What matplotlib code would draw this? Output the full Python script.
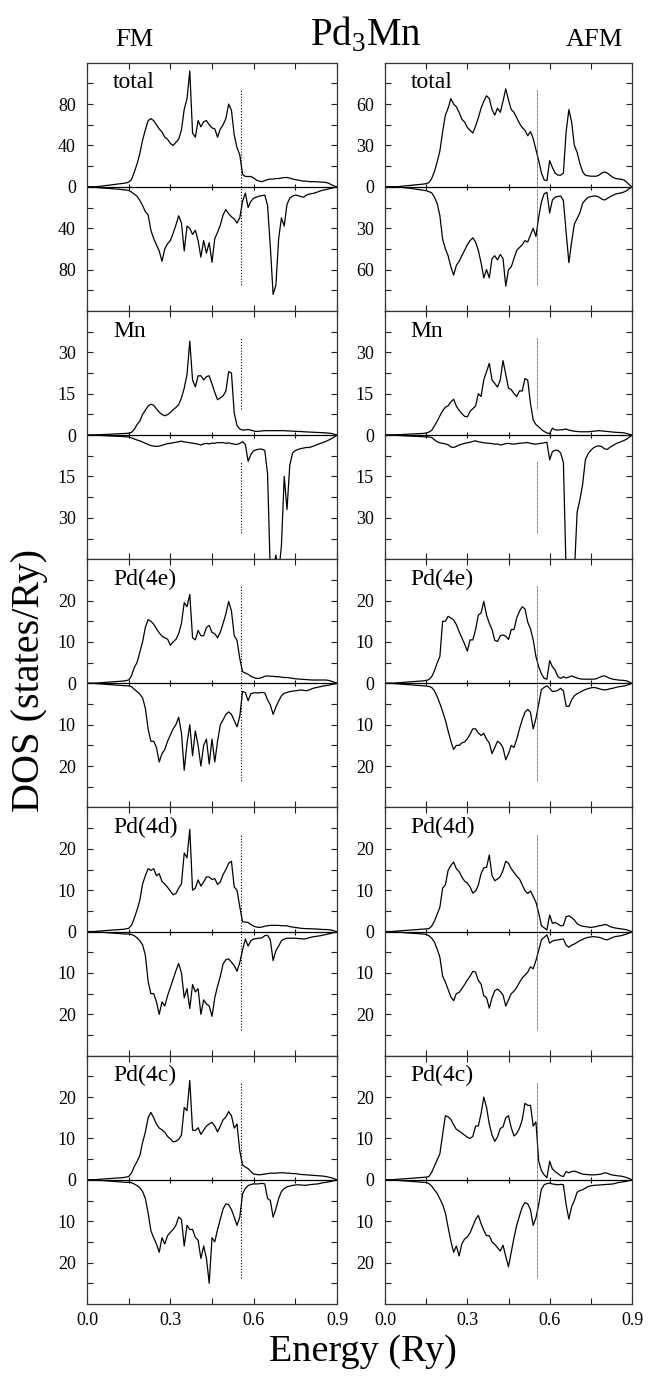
"""
Spin-resolved DOS of Pd3Mn, FM (left) vs AFM (right) ordering.
Upper half of each panel: majority spin, lower half: minority spin.
"""

import numpy as np
import matplotlib.pyplot as plt
from matplotlib.ticker import FixedLocator, FuncFormatter

# energy grid (Ry), 0.01 steps from 0.0 to 0.9
ENERGY = np.linspace(0.0, 0.9, 91)
E_FERMI = 0.555

# --- FM ---------------------------------------------------------------
FM_TOTAL_UP = [
    0, 0, 0, 0, 0.3, 0.6, 1.0, 1.3, 1.6, 2.0,
    2.3, 2.7, 3.0, 3.3, 3.8, 4.5, 7, 14, 22, 32,
    45, 55, 64, 66, 64, 60, 56, 53, 48, 46,
    42, 40, 43, 46, 55, 75, 85, 112, 52, 48,
    64, 58, 63, 64, 60, 57, 56, 48, 56, 60,
    66, 80, 74, 50, 38, 31, 12, 10, 10, 10,
    8.5, 6.5, 5.5, 5, 6, 7, 7.5, 7.5, 8, 8,
    8.5, 9, 9, 8.5, 7.5, 7, 6.5, 6, 5.5, 5.5,
    5, 5, 5, 4.8, 4.6, 4.5, 4.2, 3.5, 2, 0.8,
    0]
FM_TOTAL_DN = [
    0, 0, 0.2, 0.5, 0.8, 1.0, 1.2, 1.4, 1.6, 1.8,
    2.0, 2.2, 2.5, 2.8, 3.0, 3.5, 5, 7, 9, 13,
    18, 24, 27, 42, 50, 56, 62, 72, 60, 55,
    52, 45, 37, 28, 35, 62, 38, 40, 46, 42,
    52, 68, 52, 64, 54, 73, 50, 44, 37, 27,
    22, 26, 29, 31, 35, 30, 14, 6, 20, 14,
    11, 10, 9, 8.5, 8, 18, 58, 104, 95, 50,
    30, 38, 17, 11, 9, 8, 8.5, 9.5, 10, 8,
    7, 6.5, 6, 5, 4, 3.2, 2.7, 2, 1.4, 0.7,
    0]
FM_MN_UP = [
    0, 0, 0, 0.05, 0.1, 0.15, 0.2, 0.25, 0.3, 0.35,
    0.4, 0.45, 0.5, 0.55, 0.6, 0.7, 1.0, 2.0, 3.8, 5,
    7.5, 9, 10.5, 11.2, 10.8, 9.5, 8.3, 7.5, 7.0, 7.4,
    8.2, 9.2, 10, 11, 13.5, 17, 22, 34, 20, 17.5,
    21.5, 21.5, 20, 21.2, 21.5, 18.5, 15.5, 12.8, 13.5, 14.2,
    16, 23, 22.5, 8, 3.5, 2.2, 1.8, 1.9, 2.0, 1.8,
    1.5, 1.3, 1.4, 1.5, 1.6, 1.6, 1.6, 1.6, 1.6, 1.6,
    1.6, 1.6, 1.5, 1.5, 1.4, 1.4, 1.3, 1.3, 1.2, 1.15,
    1.1, 1.05, 1.0, 0.95, 0.9, 0.85, 0.8, 0.7, 0.6, 0.3,
    0]
FM_MN_DN = [
    0, 0, 0, 0.05, 0.1, 0.15, 0.2, 0.25, 0.3, 0.35,
    0.4, 0.45, 0.5, 0.55, 0.6, 0.7, 1.0, 1.4, 1.8, 2.1,
    2.5, 3.0, 3.4, 3.8, 4.0, 4.1, 4.0, 3.7, 3.4, 3.1,
    3.0, 2.8, 2.6, 2.4, 2.2, 2.5, 2.6, 2.8, 2.9, 3.1,
    3.3, 3.6, 3.2, 3.0, 3.2, 2.9, 3.0, 2.7, 2.8, 2.7,
    3.0, 2.8, 3.1, 3.3, 3.4, 3.0, 2.4, 3.4, 9.5, 7,
    5.7, 5.3, 5.1, 5.1, 5.6, 14, 50, 50, 43.5, 50,
    40, 15, 27, 11, 6.5, 5.6, 5.2, 4.9, 4.7, 4.5,
    4.5, 4.2, 3.8, 3.4, 3.0, 2.7, 2.3, 1.8, 1.3, 0.7,
    0]
FM_PD4E_UP = [
    0, 0, 0, 0.05, 0.1, 0.15, 0.2, 0.25, 0.3, 0.35,
    0.4, 0.45, 0.5, 0.55, 0.65, 0.8, 1.8, 3.8, 5, 7.5,
    10, 13.5, 15.4, 15, 14.3, 13.2, 12.2, 11.4, 11, 10.7,
    9.2, 10, 10.6, 12, 14.5, 19.5, 18.5, 21.5, 11, 10.5,
    12.8, 11.5, 11.5, 13.5, 14, 12.3, 12, 11, 12.4, 14.5,
    16.8, 19.8, 17.5, 11.5, 10.4, 6, 2.8, 2.5, 2.2, 1.7,
    1.4, 1.2, 1.2, 1.4, 1.7, 1.8, 1.7, 1.7, 1.6, 1.6,
    1.5, 1.4, 1.4, 1.3, 1.2, 1.1, 1.05, 1.0, 0.95, 0.9,
    0.85, 0.8, 0.8, 0.8, 0.8, 0.8, 0.8, 0.7, 0.5, 0.25,
    0]
FM_PD4E_DN = [
    0, 0, 0, 0.05, 0.1, 0.15, 0.2, 0.25, 0.3, 0.35,
    0.4, 0.45, 0.5, 0.55, 0.6, 0.6, 0.8, 1.4, 2.0, 2.6,
    3.5, 6, 11, 14, 14, 15.5, 19, 17, 16, 14,
    12.5, 11, 10, 8.2, 12, 21, 14.5, 10, 17.5, 11.5,
    15, 20, 15, 13.5, 19.5, 13.5, 19, 14, 10, 8.8,
    7.5, 6.9, 7.5, 9, 10.5, 8, 2, 2.2, 4.2, 2.5,
    2.3, 2.3, 2.3, 2.2, 2.3, 4.0, 5.2, 7.5, 5.7, 4.3,
    3.0, 2.4, 2.2, 2.0, 1.9, 1.8, 1.7, 1.6, 1.7, 1.8,
    1.6, 1.3, 1.1, 0.95, 0.8, 0.65, 0.55, 0.45, 0.3, 0.15,
    0]
FM_PD4D_UP = [
    0, 0, 0, 0.05, 0.1, 0.15, 0.2, 0.25, 0.3, 0.35,
    0.4, 0.45, 0.5, 0.55, 0.65, 0.8, 1.5, 3.2, 5.2, 7.5,
    11.5, 13.5, 15.2, 14.8, 15.2, 13.5, 14, 12.1, 11.5, 10.7,
    9.8, 8.9, 9.2, 10.5, 11.5, 19, 17.8, 24.7, 10, 10.5,
    12.5, 11, 12, 13.2, 13.2, 12.6, 12.8, 11.4, 12, 13.8,
    15, 16.5, 17, 10.8, 10, 6, 2.4, 2.3, 2.2, 1.7,
    1.3, 1.1, 1.0, 1.1, 1.3, 1.4, 1.5, 1.5, 1.5, 1.5,
    1.4, 1.4, 1.4, 1.2, 1.1, 1.0, 0.9, 0.8, 0.75, 0.7,
    0.7, 0.65, 0.65, 0.6, 0.55, 0.5, 0.5, 0.45, 0.35, 0.15,
    0]
FM_PD4D_DN = [
    0, 0, 0, 0.05, 0.1, 0.15, 0.2, 0.25, 0.3, 0.35,
    0.4, 0.45, 0.5, 0.55, 0.6, 0.6, 0.7, 1.0, 1.5, 2.2,
    3.2, 5.7, 12, 15, 15, 17, 20, 17, 18, 15.5,
    13.5, 11.5, 9.5, 7.7, 10, 16, 13.8, 18.6, 12.8, 14.6,
    13.8, 20, 16.5, 17.5, 18, 20.5, 16, 13.2, 10.8, 7.8,
    6.8, 6.6, 7.4, 8.2, 9.6, 7.5, 4.5, 1.8, 3.5, 2.2,
    1.8, 1.7, 1.6, 1.5, 1.0, 0.9, 2.0, 7, 4.6, 3.5,
    2.2, 1.8, 1.6, 1.6, 1.6, 1.6, 1.7, 1.7, 1.8, 1.7,
    1.5, 1.3, 1.2, 1.1, 1.0, 0.85, 0.7, 0.55, 0.4, 0.2,
    0]
FM_PD4C_UP = [
    0, 0, 0, 0.05, 0.1, 0.15, 0.2, 0.25, 0.3, 0.35,
    0.4, 0.45, 0.5, 0.55, 0.65, 0.8, 1.6, 3.2, 4.4, 5.8,
    9, 11.5, 15, 16.3, 15, 13.5, 12.5, 12.1, 11.5, 10.5,
    9.9, 9.2, 9.3, 9.8, 10.8, 17.5, 16.7, 24, 12, 11.9,
    12.6, 11, 12, 13, 13.5, 13.9, 13, 11.6, 13, 14.5,
    15.2, 16.5, 15.5, 12.5, 13.5, 7, 3.6, 3.1, 2.7, 2.0,
    1.4, 1.3, 1.2, 1.3, 1.4, 1.5, 1.6, 1.6, 1.6, 1.7,
    1.7, 1.7, 1.6, 1.6, 1.5, 1.5, 1.4, 1.3, 1.25, 1.2,
    1.15, 1.1, 1.05, 1.0, 0.95, 0.9, 0.8, 0.65, 0.5, 0.25,
    0]
FM_PD4C_DN = [
    0, 0, 0, 0.05, 0.1, 0.15, 0.2, 0.25, 0.3, 0.35,
    0.4, 0.45, 0.5, 0.55, 0.6, 0.6, 0.7, 1.0, 1.4, 1.9,
    2.8, 4.5, 8, 12.3, 14, 15.5, 17.5, 14, 15.5, 13.5,
    12.7, 12, 11, 9, 9.6, 16, 11, 12, 12, 13.9,
    14.6, 19, 16, 19, 25, 14, 15, 12, 9.5, 7,
    5.8, 6, 7.2, 9, 11, 9, 3.4, 2.1, 1.4, 1.1,
    1.0, 1.0, 0.95, 0.85, 1.0, 4.5, 5, 9, 7, 4.5,
    2.8, 2.1, 1.7, 1.5, 1.35, 1.25, 1.2, 1.25, 1.3, 1.3,
    1.2, 1.1, 1.05, 1.0, 0.85, 0.7, 0.6, 0.5, 0.35, 0.18,
    0]

# --- AFM --------------------------------------------------------------
AFM_TOTAL_UP = [
    0, 0, 0, 0, 0, 0.2, 0.4, 0.6, 0.8, 1.0,
    1.2, 1.4, 1.6, 1.8, 2.0, 2.3, 3.0, 6, 11, 18,
    26, 40, 52, 57, 64, 60, 58, 54, 49, 47,
    43, 41, 39, 44, 50, 57, 62, 66, 64, 56,
    52, 57, 54, 62, 71, 63, 56, 54, 50, 46,
    43, 41, 37, 40, 35, 27, 19, 10, 5, 4.5,
    19, 14, 10, 8.5, 8.4, 10, 40, 56, 47, 30,
    25, 17, 11, 8.4, 8, 7.7, 7.7, 7.7, 8.5, 10,
    10.8, 10, 8.4, 7, 6, 5.8, 5.5, 5, 3.5, 1.5,
    0]
AFM_TOTAL_DN = [
    0, 0, 0, 0, 0, 0.2, 0.4, 0.6, 0.8, 1.0,
    1.3, 1.6, 1.9, 2.2, 2.5, 2.8, 3.5, 4.3, 7.5, 12,
    21, 38, 45, 50, 58, 64, 57, 54, 50, 46,
    42, 39, 37, 40, 46, 55, 66, 60, 66, 52,
    50, 53, 49, 52, 72, 60, 58, 52, 46, 44,
    42, 39, 40, 35, 30, 36, 22, 11, 5, 4,
    19, 9.5, 7.5, 7, 6.7, 10, 33, 55, 40, 27,
    23, 19, 12, 9.5, 7.7, 7, 6.7, 6.7, 7.5, 8.8,
    9.6, 8.5, 7.2, 6.2, 5.3, 4.8, 4.4, 3.8, 2.8, 1.4,
    0]
AFM_MN_UP = [
    0, 0, 0, 0.05, 0.1, 0.15, 0.2, 0.25, 0.3, 0.35,
    0.4, 0.45, 0.5, 0.55, 0.6, 0.75, 1.1, 1.7, 3.3, 5,
    7, 8.8, 10.1, 10.6, 12, 13, 10.5, 9, 7.8, 6.8,
    6.6, 8.6, 9.6, 10.5, 15, 14, 20, 23, 26, 20,
    18.7, 17.4, 20, 27, 22, 17, 16.5, 15, 14, 16,
    16, 20.5, 20, 11.5, 5.5, 3.8, 3.0, 2.0, 1.3, 0.8,
    0.5, 2.5, 1.9, 1.8, 1.9, 2.0, 2.2, 1.8, 1.6, 1.4,
    1.3, 1.2, 1.2, 1.2, 1.2, 1.3, 1.4, 1.5, 1.6, 1.5,
    1.4, 1.3, 1.2, 1.1, 1.0, 0.95, 0.9, 0.8, 0.6, 0.3,
    0]
AFM_MN_DN = [
    0, 0, 0, 0.05, 0.1, 0.15, 0.2, 0.25, 0.3, 0.35,
    0.4, 0.45, 0.5, 0.55, 0.6, 0.65, 0.7, 0.85, 1.7, 2.4,
    2.8, 3.0, 3.2, 3.5, 4.3, 4.5, 4.1, 3.6, 3.3, 3.0,
    2.8, 2.6, 2.3, 2.1, 2.4, 2.6, 2.8, 2.9, 3.0, 3.1,
    3.3, 3.2, 3.6, 3.4, 3.1, 3.0, 3.2, 3.3, 3.1, 3.0,
    2.9, 2.8, 2.7, 3.0, 3.2, 3.3, 3.1, 3.0, 2.8, 2.6,
    9, 6, 5.5, 5.5, 6.5, 10, 50, 50, 50, 50,
    28, 23.5, 18, 9, 6.8, 5.5, 4.6, 4.1, 3.9, 4.2,
    5.0, 5.2, 4.4, 3.8, 3.2, 2.8, 2.4, 2.0, 1.5, 0.8,
    0]
AFM_PD4E_UP = [
    0, 0, 0, 0.05, 0.1, 0.15, 0.2, 0.25, 0.3, 0.35,
    0.4, 0.45, 0.5, 0.55, 0.6, 0.7, 0.9, 1.6, 3.0, 4.9,
    6.5, 15, 15, 16.2, 15.8, 15.3, 14.2, 12.5, 11, 9.5,
    7.8, 10.5, 10.5, 13, 16.5, 17, 19.8, 16.5, 14.5, 13,
    10.4, 10.1, 11.5, 11.7, 11.4, 10.6, 13, 13, 15.8, 17.4,
    18.5, 18, 14.8, 13.2, 10.5, 6.5, 4, 2.3, 1.2, 1.0,
    5.5, 4.0, 3.2, 1.6, 1.2, 1.6, 1.3, 1.5, 1.8, 1.5,
    1.3, 1.1, 1.0, 1.0, 1.0, 1.0, 1.0, 1.1, 1.4, 1.7,
    1.8, 1.5, 1.2, 1.0, 0.9, 0.8, 0.75, 0.7, 0.6, 0.3,
    0]
AFM_PD4E_DN = [
    0, 0, 0, 0.05, 0.1, 0.15, 0.2, 0.25, 0.3, 0.35,
    0.4, 0.45, 0.5, 0.55, 0.6, 0.65, 0.75, 1.0, 1.8, 3.2,
    4.9, 6.8, 8.9, 11.5, 14, 16, 15, 15, 14.4, 14.2,
    13.4, 12.3, 11, 11, 12, 12.6, 12.1, 13.5, 14.4, 17,
    15.5, 14, 14.5, 15.6, 18.5, 17, 15, 15.5, 13.5, 11,
    8.8, 7, 6.3, 7, 11, 8.5, 5, 1.5, 1.0, 0.6,
    1.2, 2.0, 1.9, 1.7, 1.2, 1.8, 5.5, 5.6, 4, 3,
    2.5, 2.2, 1.8, 1.5, 1.3, 1.1, 1.0, 1.1, 1.3, 1.5,
    1.6, 1.5, 1.3, 1.2, 1.0, 0.85, 0.75, 0.65, 0.5, 0.25,
    0]
AFM_PD4D_UP = [
    0, 0, 0, 0.05, 0.1, 0.15, 0.2, 0.25, 0.3, 0.35,
    0.4, 0.45, 0.5, 0.55, 0.6, 0.65, 0.7, 1.3, 2.5, 4.2,
    5.9, 10.5, 11.3, 14.8, 16, 16.8, 15.2, 14.5, 13.2, 12.2,
    11.7, 10.8, 9.3, 9.8, 11.2, 14, 15.4, 15.5, 18.5, 13.5,
    12.3, 12.7, 13.3, 14.8, 17, 16.5, 15.2, 14.3, 13.4, 12.7,
    11.3, 9.9, 9.2, 9.8, 8.5, 7.1, 4.5, 1.4, 0.9, 0.4,
    4.0, 2.0, 2.2, 1.8, 1.4, 1.5, 3.6, 3.8, 3.4, 2.8,
    1.9, 1.5, 1.3, 1.2, 1.1, 1.0, 1.1, 1.2, 1.4, 1.5,
    1.7, 1.6, 1.2, 1.0, 0.85, 0.75, 0.65, 0.55, 0.45, 0.2,
    0]
AFM_PD4D_DN = [
    0, 0, 0, 0.05, 0.1, 0.15, 0.2, 0.25, 0.3, 0.35,
    0.4, 0.45, 0.5, 0.55, 0.6, 0.7, 1.0, 1.6, 2.5, 4.2,
    6.2, 10.8, 12.2, 14, 15.8, 16.7, 15, 14.7, 13.8, 12.8,
    11.7, 10.8, 9.6, 9.8, 11.8, 12.7, 15.5, 16, 18.5, 16,
    14.3, 13.9, 14.5, 15.3, 18, 16.5, 15, 14.4, 13.5, 12.3,
    11.2, 10.5, 9.8, 8.5, 9, 7, 4.5, 2, 1.4, 0.8,
    2.8, 2.3, 2.1, 2.0, 1.9, 1.8, 3.3, 3.8, 3.3, 3.0,
    2.6, 2.2, 1.9, 1.6, 1.4, 1.3, 1.2, 1.3, 1.4, 1.6,
    1.9, 2.0, 1.7, 1.4, 1.2, 1.1, 1.0, 0.8, 0.6, 0.3,
    0]
AFM_PD4C_UP = [
    0, 0, 0, 0.05, 0.1, 0.15, 0.2, 0.25, 0.3, 0.35,
    0.4, 0.45, 0.5, 0.55, 0.6, 0.65, 0.8, 1.8, 3.3, 4.8,
    6.3, 11, 15.5, 15.2, 14.6, 13.3, 12.2, 11.8, 11.3, 10.8,
    10.3, 10, 10.5, 13, 13, 16, 20, 17.5, 13.5, 10.8,
    9.3, 10.4, 12.4, 12.8, 15, 15.5, 12.6, 10.6, 11.2, 12.5,
    14.5, 18.5, 18, 18, 13, 14, 4.5, 2.2, 1.2, 0.5,
    4.5, 2.6, 2.0, 1.5, 1.0, 0.8, 2.0, 1.7, 2.0, 2.1,
    1.9, 1.6, 1.4, 1.3, 1.25, 1.2, 1.2, 1.25, 1.3, 1.45,
    1.7, 1.6, 1.3, 1.15, 1.05, 0.95, 0.9, 0.75, 0.55, 0.3,
    0]
AFM_PD4C_DN = [
    0, 0, 0, 0.05, 0.1, 0.15, 0.2, 0.25, 0.3, 0.35,
    0.4, 0.45, 0.5, 0.55, 0.6, 0.65, 0.9, 1.5, 2.4, 3.3,
    4.6, 6, 8, 11.5, 14.8, 17.5, 16, 18.4, 15.5, 14.3,
    13.8, 12.8, 11.2, 9.6, 8.6, 10.6, 12.2, 13.5, 13.5, 15,
    15.6, 16.4, 17.2, 15.8, 18.5, 21, 17.5, 14, 11, 8.7,
    6.6, 5.5, 5.8, 7.2, 11, 9.2, 6, 2.2, 1.2, 0.9,
    0.8, 1.0, 1.1, 1.2, 1.1, 1.2, 6, 9.5, 6.5, 5,
    3.0, 2.6, 2.4, 2.0, 1.6, 1.45, 1.35, 1.3, 1.25, 1.2,
    1.15, 1.1, 1.05, 1.0, 0.85, 0.65, 0.55, 0.45, 0.35, 0.2,
    0]

ROW_LABELS = ['total', 'Mn', 'Pd(4e)', 'Pd(4d)', 'Pd(4c)']
FM_UP = [FM_TOTAL_UP, FM_MN_UP, FM_PD4E_UP, FM_PD4D_UP, FM_PD4C_UP]
FM_DN = [FM_TOTAL_DN, FM_MN_DN, FM_PD4E_DN, FM_PD4D_DN, FM_PD4C_DN]
AFM_UP = [AFM_TOTAL_UP, AFM_MN_UP, AFM_PD4E_UP, AFM_PD4D_UP, AFM_PD4C_UP]
AFM_DN = [AFM_TOTAL_DN, AFM_MN_DN, AFM_PD4E_DN, AFM_PD4D_DN, AFM_PD4C_DN]

# y half-range and tick step per row
YMAX_FM = [120, 45, 30, 30, 30]
YMAX_AFM = [90, 45, 30, 30, 30]
YSTEP_FM = [20, 7.5, 5, 5, 5]
YSTEP_AFM = [15, 7.5, 5, 5, 5]

XTICKS = [0.0, 0.15, 0.3, 0.45, 0.6, 0.75, 0.9]
XLABELED = [0.0, 0.3, 0.6, 0.9]

plt.rcParams['font.family'] = 'Liberation Serif'
plt.rcParams['mathtext.fontset'] = 'custom'
plt.rcParams['mathtext.rm'] = 'Liberation Serif'

W, H = 650, 1376
COL_X = [(87, 250), (385, 247)]      # left edge, width in px
ROW_TOP, ROW_H = 62.7, 248.25


def ylabel_fmt(step):
    def fmt(v, _):
        k = int(round(v / step))
        return f'{abs(v):g}' if k % 2 == 0 else ''
    return fmt


def draw_panel(ax, up, dn, ymax, step, label, afm, bottom_row, gap):
    ax.plot(ENERGY, up, color='k', lw=0.9)
    ax.plot(ENERGY, -np.asarray(dn), color='k', lw=0.9)
    ax.set_xlim(0, 0.9)
    ax.set_ylim(-ymax, ymax)

    # Fermi level marker
    if afm:
        ls, lw, c = (0, (1, 0.6)), 0.6, '#444444'
    else:
        ls, lw, c = (0, (1, 1.6)), 0.8, 'k'
    if gap:
        ax.axvline(E_FERMI, 0.605, 0.895, ls=ls, lw=lw, color=c)
        ax.axvline(E_FERMI, 0.105, 0.395, ls=ls, lw=lw, color=c)
    else:
        ax.axvline(E_FERMI, 0.105, 0.895, ls=ls, lw=lw, color=c)

    yt = [k * step for k in range(-5, 6)]
    ax.yaxis.set_major_locator(FixedLocator(yt))
    ax.yaxis.set_major_formatter(FuncFormatter(ylabel_fmt(step)))
    ax.xaxis.set_major_locator(FixedLocator(XTICKS))
    if bottom_row:
        ax.xaxis.set_major_formatter(
            FuncFormatter(lambda v, _: f'{v:.1f}' if round(v, 2) in XLABELED else ''))
    else:
        ax.set_xticklabels([])
    ax.tick_params(direction='in', top=True, right=True, length=4.5, width=0.8,
                   labelsize=13, color='#222222')
    ax.tick_params(axis='y', pad=8)
    ax.tick_params(axis='x', pad=6)
    for sp in ax.spines.values():
        sp.set_linewidth(0.9)
        sp.set_color('#333333')

    # zero line with its own ticks
    zax = ax.secondary_xaxis(0.5)
    zax.xaxis.set_major_locator(FixedLocator(XTICKS[1:-1]))
    zax.tick_params(direction='inout', length=5, width=0.8, labeltop=False,
                    labelbottom=False)
    for sp in zax.spines.values():
        sp.set_linewidth(0.9)
        sp.set_color('k')

    ax.text(0.104, 0.897, label, transform=ax.transAxes, fontsize=17,
            ha='left', va='baseline')


def main():
    fig = plt.figure(figsize=(W / 100, H / 100), dpi=100)

    for col, (ups, dns, ymaxs, steps) in enumerate(
            [(FM_UP, FM_DN, YMAX_FM, YSTEP_FM),
             (AFM_UP, AFM_DN, YMAX_AFM, YSTEP_AFM)]):
        x0, w = COL_X[col]
        for row in range(5):
            top = ROW_TOP + ROW_H * row
            rect = [x0 / W, 1 - (top + ROW_H) / H, w / W, ROW_H / H]
            ax = fig.add_axes(rect)
            draw_panel(ax, ups[row], dns[row], ymaxs[row], steps[row],
                       ROW_LABELS[row], afm=(col == 1), bottom_row=(row == 4),
                       gap=(row == 1))

    fig.text(366 / W, 1 - 46 / H, r'Pd$_\mathregular{3}$Mn', fontsize=28,
             ha='center', va='baseline')
    fig.text(134 / W, 1 - 46 / H, 'FM', fontsize=19, ha='center', va='baseline')
    fig.text(594 / W, 1 - 46 / H, 'AFM', fontsize=19, ha='center', va='baseline')
    fig.text(363 / W, 1 - 1352 / H, 'Energy (Ry)', fontsize=27.5,
             ha='center', va='center')
    fig.text(30 / W, 1 - 680 / H, 'DOS (states/Ry)', fontsize=29,
             rotation=90, ha='center', va='center')

    fig.savefig('out.png', dpi=100)


if __name__ == '__main__':
    main()
